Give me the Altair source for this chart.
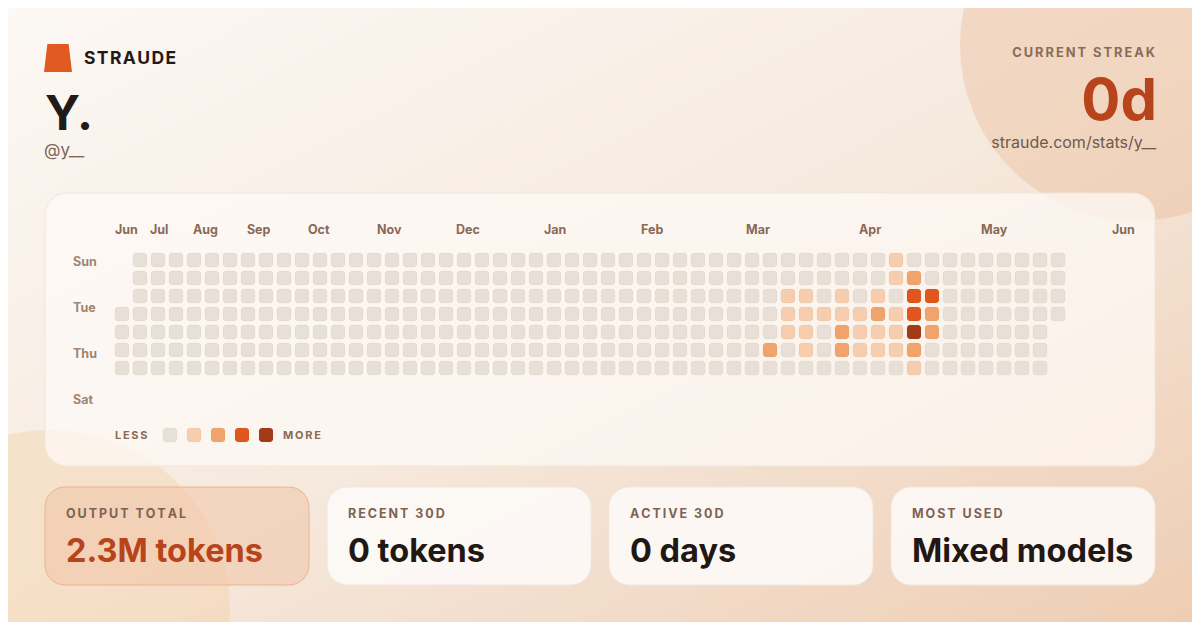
import altair as alt
import pandas as pd

# ---------------- data ----------------
months = ["Jun", "Jul", "Aug", "Sep", "Oct", "Nov", "Dec", "Jan", "Feb", "Mar", "Apr", "May", "Jun"]
# column position (in week units) where each month label starts
month_week = [0.0, 1.94, 4.33, 7.33, 10.72, 14.56, 18.94, 23.83, 29.22, 35.06, 41.33, 48.11, 55.39]
weekday_labels = ["Sun", "Tue", "Thu", "Sat"]
n_weeks = 53
first_col_start_day = 3   # first week column starts on Wednesday
last_col_end_day = 3      # last week column ends on Wednesday

# non-zero activity cells (week column, weekday row, intensity level 1-4)
active_week = [36, 37, 37, 37, 38, 38, 38, 38, 39, 40, 40, 40, 40, 41, 41, 41,
               42, 42, 42, 42, 43, 43, 43, 43, 43, 44, 44, 44, 44, 44, 44, 45, 45, 45]
active_day = [5, 2, 3, 4, 2, 3, 4, 5, 3, 2, 3, 4, 5, 3, 4, 5,
              2, 3, 4, 5, 0, 1, 3, 4, 5, 1, 2, 3, 4, 5, 6, 2, 3, 4]
active_level = [2, 1, 1, 1, 1, 1, 1, 1, 1, 1, 1, 2, 2, 1, 1, 1,
                1, 2, 1, 1, 1, 1, 1, 1, 1, 2, 3, 3, 4, 2, 1, 3, 2, 2]

levels = [0, 1, 2, 3, 4]
level_colors = ["#e8e0d6", "#f6cdae", "#f0a46c", "#e0561f", "#a33b19"]

stat_labels = ["OUTPUT TOTAL", "RECENT 30D", "ACTIVE 30D", "MOST USED"]
stat_values = ["2.3M tokens", "0 tokens", "0 days", "Mixed models"]

brand = "STRAUDE"
display_name = "Y."
handle = "@y__"
streak_label = "CURRENT STREAK"
streak_value = "0d"
profile_url = "straude.com/stats/y__"

# ---------------- tables ----------------
lvl = {(w, d): l for w, d, l in zip(active_week, active_day, active_level)}
cells = []
for w in range(n_weeks):
    for d in range(7):
        if w == 0 and d < first_col_start_day:
            continue
        if w == n_weeks - 1 and d > last_col_end_day:
            continue
        cells.append({"week": w, "day": d, "level": lvl.get((w, d), 0)})
cells_df = pd.DataFrame(cells)
months_df = pd.DataFrame({"m": months, "pos": month_week})
days_df = pd.DataFrame({"d": weekday_labels, "i": list(range(len(weekday_labels)))})
legend_df = pd.DataFrame({"level": levels})
stats_df = pd.DataFrame({"i": list(range(4)), "label": stat_labels, "value": stat_values})

FONT = "Inter"
W, H = 1184, 614
OFF = 8  # page margin; layout numbers below are picture coordinates

def ax(v):
    return v - OFF

def spaced(s, sep="\u2009"):
    return sep.join(list(s))

def text_layer(txt, x, y, size, color, weight="normal", align="left"):
    return alt.Chart(pd.DataFrame({"t": [txt]})).mark_text(
        font=FONT, fontSize=size, fontWeight=weight, color=color,
        align=align, baseline="alphabetic"
    ).encode(x=alt.value(ax(x)), y=alt.value(ax(y)), text="t:N")

one = pd.DataFrame({"a": [0]})

bg = alt.Chart(one).mark_rect(
    fill=alt.LinearGradient(
        gradient="linear", x1=0, y1=0, x2=1, y2=1,
        stops=[alt.GradientStop(color="#fcf8f4", offset=0),
               alt.GradientStop(color="#f6eadf", offset=0.5),
               alt.GradientStop(color="#eecdb3", offset=1)]),
).encode(x=alt.value(0), x2=alt.value(W), y=alt.value(0), y2=alt.value(H))

# circle symbol: diameter = sqrt(size)
circle_tr = alt.Chart(one).mark_circle(color="#eab894", opacity=0.38).encode(
    x=alt.value(ax(1136)), y=alt.value(ax(45)), size=alt.value((2 * 176) ** 2))
circle_bl = alt.Chart(one).mark_circle(color="#f2cc98", opacity=0.33).encode(
    x=alt.value(ax(50)), y=alt.value(ax(610)), size=alt.value((2 * 180) ** 2))

panel = alt.Chart(one).mark_rect(
    cornerRadius=22, fill="#fdf9f5", fillOpacity=0.75, stroke="#f1e5da", strokeWidth=1
).encode(x=alt.value(ax(45)), x2=alt.value(ax(1155)), y=alt.value(ax(193)), y2=alt.value(ax(466)))

card_scale = alt.Scale(domain=[0, 1, 2, 3], range=[ax(45), ax(1155)], paddingInner=18 / 282, paddingOuter=0)
cards = alt.Chart(stats_df).mark_rect(cornerRadius=20, strokeWidth=1).encode(
    x=alt.X("i:O", scale=card_scale, axis=None),
    y=alt.value(ax(487)), y2=alt.value(ax(585)),
    fill=alt.condition("datum.i == 0", alt.value("#f1c8ac"), alt.value("#fdfaf7")),
    fillOpacity=alt.condition("datum.i == 0", alt.value(0.62), alt.value(0.9)),
    stroke=alt.condition("datum.i == 0", alt.value("#ebb491"), alt.value("#f1e7de")),
)

card_text_scale = alt.Scale(domain=[0, 3], range=[ax(66), ax(66 + 3 * 282)], nice=False, zero=False)
card_labels = alt.Chart(stats_df).transform_calculate(
    sl="join(split(datum.label, ''), '\u2009')"
).mark_text(font=FONT, fontSize=12.5, fontWeight="bold", color="#7d6353",
            align="left", baseline="alphabetic").encode(
    x=alt.X("i:Q", scale=card_text_scale, axis=None),
    y=alt.value(ax(518)), text="sl:N")
card_values = alt.Chart(stats_df).mark_text(
    font=FONT, fontSize=32.5, fontWeight="bold", align="left", baseline="alphabetic"
).encode(
    x=alt.X("i:Q", scale=card_text_scale, axis=None),
    y=alt.value(ax(562)), text="value:N",
    color=alt.condition("datum.i == 0", alt.value("#b8441b"), alt.value("#1f1814")))

color_scale = alt.Scale(domain=levels, range=level_colors)
heat = alt.Chart(cells_df).mark_rect(
    cornerRadius=3, stroke="#6b4a30", strokeOpacity=0.05, strokeWidth=1
).encode(
    x=alt.X("week:O", scale=alt.Scale(domain=list(range(n_weeks)), range=[ax(115), ax(115 + 18 * n_weeks - 4)],
                                      paddingInner=4 / 18, paddingOuter=0), axis=None),
    y=alt.Y("day:O", scale=alt.Scale(domain=list(range(7)), range=[ax(253), ax(253 + 18 * 7 - 4)],
                                     paddingInner=4 / 18, paddingOuter=0), axis=None),
    color=alt.Color("level:O", scale=color_scale, legend=None),
)

month_text = alt.Chart(months_df).mark_text(
    font=FONT, fontSize=12.5, fontWeight="bold", color="#8a6a56", align="left", baseline="alphabetic"
).encode(
    x=alt.X("pos:Q", scale=alt.Scale(domain=[0, n_weeks], range=[ax(115), ax(115 + 18 * n_weeks)], nice=False, zero=False), axis=None),
    y=alt.value(ax(234)), text="m:N")

day_text = alt.Chart(days_df).mark_text(
    font=FONT, fontSize=12.5, fontWeight="bold", color="#a08574", align="left", baseline="alphabetic"
).encode(
    x=alt.value(ax(73)),
    y=alt.Y("i:Q", scale=alt.Scale(domain=[0, 3], range=[ax(266), ax(404)], nice=False, zero=False), axis=None),
    text="d:N")

legend_sq = alt.Chart(legend_df).mark_rect(
    cornerRadius=3, stroke="#6b4a30", strokeOpacity=0.05, strokeWidth=1
).encode(
    x=alt.X("level:O", scale=alt.Scale(domain=levels, range=[ax(163), ax(273)], paddingInner=10 / 24, paddingOuter=0), axis=None),
    y=alt.value(ax(428)), y2=alt.value(ax(442)),
    color=alt.Color("level:O", scale=color_scale, legend=None))

logo = alt.Chart(one).mark_point(
    shape="M-0.76,-1L0.76,-1L1,1L-1,1Z", filled=True, fill="#e05a22", opacity=1, strokeWidth=0
).encode(x=alt.value(ax(58)), y=alt.value(ax(58)), size=alt.value(28 * 28))

texts = [
    text_layer(spaced(brand, "\u200a"), 84, 64, 17.5, "#231a15", "bold"),
    text_layer(display_name, 45, 130, 48, "#221a16", "bold"),
    text_layer(handle, 44, 156, 17, "#7a6659"),
    text_layer(spaced(streak_label), 1155, 57, 12.8, "#8a6b58", "bold", "right"),
    text_layer(streak_value, 1157, 120, 58, "#b8441b", "bold", "right"),
    text_layer(profile_url, 1156, 148, 16, "#6e5a4e", "normal", "right"),
    text_layer(spaced("LESS"), 115, 439, 11, "#8a6a56", "bold"),
    text_layer(spaced("MORE"), 283, 439, 11, "#8a6a56", "bold"),
]

chart = alt.layer(
    bg, circle_tr, circle_bl, panel, cards, card_labels, card_values,
    heat, month_text, day_text, legend_sq, logo, *texts
).resolve_scale(
    x="independent", y="independent", color="independent"
).properties(
    width=W, height=H, padding=0,
    autosize=alt.AutoSizeParams(type="none"),
    background="#fbf6f1",
).configure_view(stroke=None)

chart.save("out.html", embed_options={"renderer": "svg", "actions": False})
